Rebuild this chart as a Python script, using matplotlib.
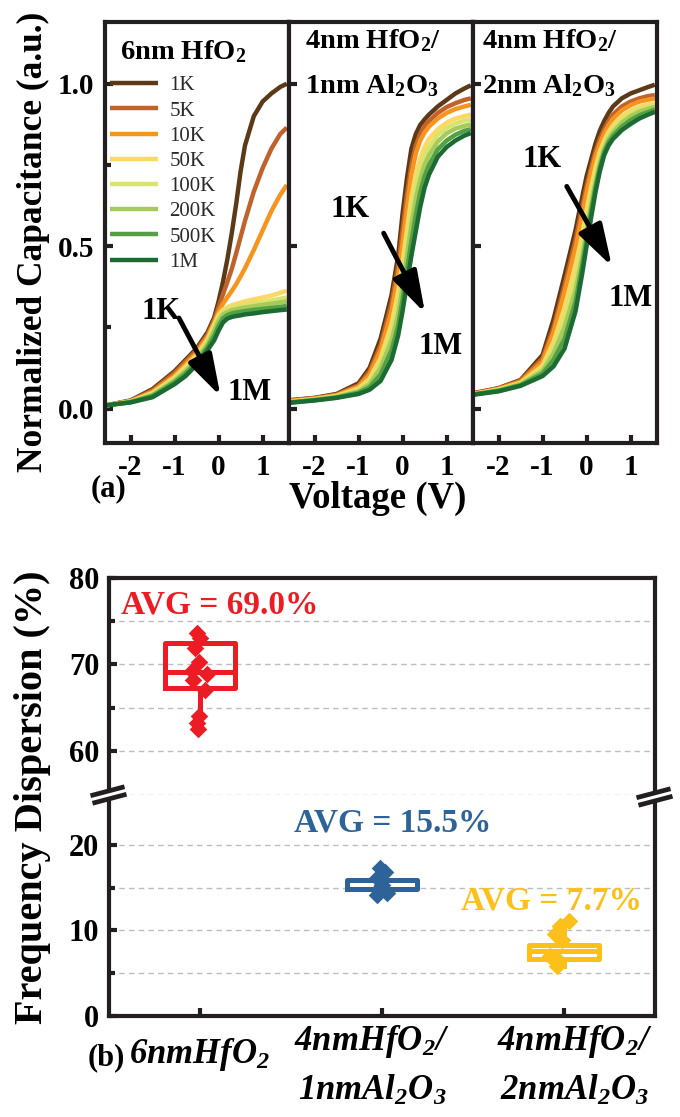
import matplotlib
matplotlib.use('Agg')
import matplotlib.pyplot as plt
import matplotlib.transforms as mtransforms
from matplotlib.lines import Line2D

plt.rcParams['font.family'] = ['Liberation Serif', 'DejaVu Serif']
plt.rcParams['font.weight'] = 'bold'
plt.rcParams['mathtext.fontset'] = 'custom'
plt.rcParams['mathtext.rm'] = 'Liberation Serif:bold'
plt.rcParams['mathtext.it'] = 'Liberation Serif:italic:bold'
plt.rcParams['mathtext.bf'] = 'Liberation Serif:bold'
plt.rcParams['mathtext.bfit'] = 'Liberation Serif:italic:bold'
plt.rcParams['axes.unicode_minus'] = False

#---- (a) C-V data, normalized capacitance
voltage = [-2.55, -2.0, -1.5, -1.0, -0.75, -0.5, -0.25, -0.1, 0.0, 0.1,
           0.2, 0.3, 0.4, 0.5, 0.6, 0.8, 1.0, 1.2, 1.4, 1.55]
freqs = ['1K', '5K', '10K', '50K', '100K', '200K', '500K', '1M']
freq_colors = ['#5C3A17', '#C0622A', '#F7941D', '#FDD865',
               '#D8E46C', '#A6CB5A', '#55A044', '#1B6B32']

cap_6nm = [
    [0.010, 0.025, 0.060, 0.115, 0.150, 0.185, 0.235, 0.280, 0.330, 0.390, 0.460, 0.540, 0.630, 0.730, 0.810, 0.900, 0.945, 0.970, 0.990, 1.000],
    [0.010, 0.024, 0.056, 0.110, 0.145, 0.180, 0.228, 0.272, 0.312, 0.352, 0.390, 0.430, 0.478, 0.528, 0.578, 0.668, 0.740, 0.800, 0.845, 0.865],
    [0.010, 0.023, 0.052, 0.102, 0.137, 0.172, 0.221, 0.265, 0.298, 0.323, 0.343, 0.362, 0.383, 0.407, 0.432, 0.488, 0.548, 0.608, 0.658, 0.688],
    [0.010, 0.022, 0.048, 0.096, 0.129, 0.164, 0.213, 0.258, 0.288, 0.304, 0.312, 0.318, 0.322, 0.326, 0.330, 0.336, 0.342, 0.348, 0.356, 0.363],
    [0.010, 0.021, 0.045, 0.091, 0.122, 0.157, 0.205, 0.250, 0.280, 0.297, 0.305, 0.310, 0.313, 0.316, 0.319, 0.324, 0.328, 0.333, 0.338, 0.342],
    [0.010, 0.020, 0.042, 0.086, 0.116, 0.151, 0.198, 0.240, 0.270, 0.290, 0.298, 0.303, 0.306, 0.309, 0.311, 0.315, 0.319, 0.323, 0.327, 0.330],
    [0.010, 0.020, 0.039, 0.081, 0.108, 0.143, 0.189, 0.225, 0.255, 0.278, 0.288, 0.293, 0.296, 0.298, 0.300, 0.304, 0.307, 0.310, 0.313, 0.316],
    [0.010, 0.019, 0.035, 0.075, 0.100, 0.135, 0.180, 0.210, 0.240, 0.265, 0.277, 0.282, 0.285, 0.287, 0.290, 0.293, 0.297, 0.300, 0.303, 0.305],
]
cap_1nm = [
    [0.026, 0.033, 0.045, 0.078, 0.125, 0.215, 0.350, 0.470, 0.600, 0.710, 0.800, 0.845, 0.873, 0.890, 0.905, 0.930, 0.950, 0.970, 0.985, 0.995],
    [0.025, 0.032, 0.043, 0.072, 0.115, 0.195, 0.325, 0.440, 0.550, 0.660, 0.750, 0.810, 0.845, 0.870, 0.885, 0.910, 0.928, 0.940, 0.950, 0.955],
    [0.024, 0.031, 0.041, 0.068, 0.105, 0.180, 0.300, 0.410, 0.510, 0.620, 0.720, 0.785, 0.825, 0.850, 0.868, 0.893, 0.910, 0.922, 0.930, 0.935],
    [0.022, 0.029, 0.039, 0.062, 0.092, 0.155, 0.260, 0.360, 0.450, 0.550, 0.650, 0.720, 0.770, 0.805, 0.830, 0.860, 0.880, 0.893, 0.900, 0.905],
    [0.021, 0.028, 0.037, 0.058, 0.083, 0.140, 0.235, 0.325, 0.410, 0.510, 0.610, 0.685, 0.740, 0.780, 0.805, 0.843, 0.864, 0.878, 0.886, 0.890],
    [0.020, 0.027, 0.036, 0.053, 0.075, 0.125, 0.210, 0.290, 0.375, 0.470, 0.565, 0.645, 0.705, 0.750, 0.780, 0.822, 0.847, 0.862, 0.870, 0.875],
    [0.019, 0.026, 0.034, 0.049, 0.066, 0.105, 0.180, 0.255, 0.335, 0.425, 0.515, 0.595, 0.665, 0.715, 0.750, 0.798, 0.825, 0.843, 0.855, 0.860],
    [0.018, 0.025, 0.033, 0.045, 0.058, 0.085, 0.150, 0.225, 0.300, 0.385, 0.470, 0.545, 0.620, 0.680, 0.720, 0.775, 0.805, 0.825, 0.840, 0.848],
]
cap_2nm = [
    [0.048, 0.063, 0.088, 0.165, 0.275, 0.410, 0.550, 0.650, 0.715, 0.765, 0.815, 0.855, 0.885, 0.910, 0.930, 0.955, 0.970, 0.980, 0.990, 0.997],
    [0.047, 0.062, 0.086, 0.155, 0.250, 0.380, 0.520, 0.620, 0.685, 0.740, 0.790, 0.830, 0.860, 0.885, 0.905, 0.930, 0.945, 0.955, 0.962, 0.965],
    [0.046, 0.061, 0.083, 0.145, 0.235, 0.360, 0.495, 0.595, 0.665, 0.725, 0.775, 0.815, 0.847, 0.872, 0.892, 0.918, 0.934, 0.945, 0.951, 0.955],
    [0.045, 0.059, 0.079, 0.132, 0.205, 0.310, 0.440, 0.535, 0.610, 0.680, 0.740, 0.790, 0.825, 0.852, 0.872, 0.900, 0.917, 0.929, 0.936, 0.940],
    [0.045, 0.058, 0.077, 0.124, 0.190, 0.280, 0.400, 0.500, 0.575, 0.650, 0.715, 0.770, 0.810, 0.840, 0.860, 0.890, 0.910, 0.922, 0.930, 0.935],
    [0.044, 0.056, 0.075, 0.116, 0.170, 0.250, 0.365, 0.465, 0.545, 0.625, 0.695, 0.755, 0.800, 0.830, 0.850, 0.880, 0.900, 0.914, 0.923, 0.928],
    [0.044, 0.055, 0.072, 0.108, 0.150, 0.215, 0.330, 0.440, 0.520, 0.605, 0.680, 0.742, 0.790, 0.820, 0.840, 0.868, 0.888, 0.903, 0.913, 0.920],
    [0.043, 0.053, 0.070, 0.100, 0.130, 0.185, 0.300, 0.415, 0.500, 0.585, 0.664, 0.730, 0.780, 0.810, 0.830, 0.857, 0.876, 0.893, 0.905, 0.913],
]
panel_caps = [cap_6nm, cap_1nm, cap_2nm]
panel_titles = [['6nm HfO$_2$'], ['4nm HfO$_2$/', '1nm Al$_2$O$_3$'], ['4nm HfO$_2$/', '2nm Al$_2$O$_3$']]

#---- (b) frequency dispersion (%)
group_labels = [[r'$\mathbfit{6nmHfO_2}$'],
                [r'$\mathbfit{4nmHfO_2/}$', r'$\mathbfit{1nmAl_2O_3}$'],
                [r'$\mathbfit{4nmHfO_2/}$', r'$\mathbfit{2nmAl_2O_3}$']]
group_colors = ['#ED1C24', '#2E6399', '#FDC01A']
disp_6nm = [73.6, 73.0, 71.9, 70.3, 69.2, 68.9, 68.2, 67.1, 64.0, 63.2, 62.5]
disp_6nm_x = [0.982, 1.0, 0.973, 0.996, 0.954, 1.037, 0.963, 1.027, 0.996, 0.985, 0.99]
disp_1nm = [17.3, 16.8, 16.1, 15.3, 14.7, 14.15, 14.35]
disp_1nm_x = [1.989, 2.016, 1.971, 1.998, 1.98, 1.971, 2.026]
disp_2nm = [11.05, 10.5, 9.6, 8.9, 6.96, 6.57, 5.8]
disp_2nm_x = [3.03, 2.978, 2.95, 2.987, 2.923, 2.969, 2.96]
box_q1 = [67.3, 14.8, 6.63]
box_med = [69.1, 14.9, 7.6]
box_q3 = [72.5, 15.95, 8.27]
box_lo = [62.5, 14.15, 5.8]
box_hi = [73.6, 17.3, 11.05]
avg_text = ['AVG = 69.0%', 'AVG = 15.5%', 'AVG = 7.7%']

W, H = 680, 1117
def fx(px):
    return px / W
def fy(py):
    return 1 - py / H

ink = '#231F20'
fig = plt.figure(figsize=(W / 100, H / 100), dpi=100)

#---- (a) three C-V panels
arrow_tail = [(-0.90, 0.279), (-0.43, 0.54), (-0.45, 0.684)]
arrow_tip = [(0.045, 0.038), (0.51, 0.294), (0.575, 0.438)]
lab_1k = [(-1.30, 0.30), (-1.19, 0.612), (-1.02, 0.766)]
lab_1m = [(0.70, 0.05), (0.87, 0.19), (1.01, 0.338)]
title_x = [0.082, 0.087, 0.049]

for i in range(3):
    ax = fig.add_axes([fx(105 + i * 184), fy(442.7), 184 / W, 420.7 / H])
    for k in range(len(freqs)):
        ax.plot(voltage, panel_caps[i][k], color=freq_colors[k], lw=3.2, label=freqs[k],
                solid_capstyle='butt', solid_joinstyle='round')
    ax.set_xlim(-2.58, 1.6)
    ax.set_ylim(-0.105, 1.19)
    for s in ax.spines.values():
        s.set_linewidth(3)
        s.set_color(ink)
    ax.set_xticks([-2, -1, 0, 1])
    ax.set_xticklabels(['-2', '-1', '0', '1'], fontsize=21)
    ax.set_yticks([0, 0.5, 1.0])
    ax.tick_params(direction='in', width=3, length=6, pad=8, color=ink)
    if i == 0:
        ax.set_yticklabels(['0.0', '0.5', '1.0'], fontsize=21)
        ax.set_yticks([0.25, 0.75], minor=True)
        ax.tick_params(which='minor', direction='in', width=3, length=4, color=ink)
        leg = ax.legend(loc='upper left', bbox_to_anchor=(0.027, 0.872), frameon=False,
                        prop={'family': 'Liberation Serif', 'weight': 'normal', 'size': 15},
                        handlelength=2.3, handletextpad=0.55, labelspacing=0.27,
                        borderpad=0, borderaxespad=0)
        for t in leg.get_texts():
            t.set_color('#2A2A2A')
    else:
        ax.set_yticklabels([])
    # titles
    if len(panel_titles[i]) == 1:
        ax.text(title_x[i], 0.911, panel_titles[i][0], transform=ax.transAxes,
                fontsize=20.5, va='baseline', ha='left')
    else:
        ax.text(title_x[i], 0.9375, panel_titles[i][0], transform=ax.transAxes,
                fontsize=20.5, va='baseline', ha='left')
        ax.text(title_x[i], 0.832, panel_titles[i][1], transform=ax.transAxes,
                fontsize=20.5, va='baseline', ha='left')
    ax.annotate('', xy=arrow_tip[i], xytext=arrow_tail[i],
                arrowprops=dict(arrowstyle='-|>,head_length=0.85,head_width=0.26',
                                color='black', lw=3.5, mutation_scale=30,
                                shrinkA=0, shrinkB=0))
    ax.text(lab_1k[i][0], lab_1k[i][1], '1K', fontsize=22, ha='center', va='center')
    ax.text(lab_1m[i][0], lab_1m[i][1], '1M', fontsize=22, ha='center', va='center')

fig.text(fx(33), fy(241.5), 'Normalized Capacitance (a.u.)', rotation=90,
         ha='center', va='center', fontsize=25.5)
fig.text(fx(378), fy(508), 'Voltage (V)', ha='center', va='baseline', fontsize=26.5)
fig.text(fx(108), fy(489), '(a)', ha='center', va='center', fontsize=22)

#---- (b) broken-axis box plot
ax_up = fig.add_axes([fx(109), fy(794.5), 546 / W, (794.5 - 577.7) / H])
ax_lo = fig.add_axes([fx(109), fy(1016), 546 / W, (1016 - 794.5) / H])
points_y = [disp_6nm, disp_1nm, disp_2nm]
points_x = [disp_6nm_x, disp_1nm_x, disp_2nm_x]

for ax in (ax_up, ax_lo):
    ax.set_xlim(0.5, 3.5)
    ax.set_axisbelow(True)
    ax.grid(axis='y', which='both', ls=(0, (4, 3)), color='#BDBDBD', lw=1)
    for s in ax.spines.values():
        s.set_linewidth(3)
        s.set_color(ink)
    for g in range(3):
        stats = [dict(med=box_med[g], q1=box_q1[g], q3=box_q3[g],
                      whislo=box_lo[g], whishi=box_hi[g], fliers=[])]
        c = group_colors[g]
        ax.bxp(stats, positions=[g + 1], widths=0.38, showcaps=False, showfliers=False,
               boxprops=dict(color=c, lw=3.6), whiskerprops=dict(color=c, lw=3.6),
               medianprops=dict(color=c, lw=3.6))
        ax.scatter(points_x[g], points_y[g], marker='D', s=80, color=c, lw=0, zorder=3)
    ax.tick_params(direction='in', width=3, length=6, pad=7, color=ink, labelsize=22)
    ax.tick_params(which='minor', direction='in', width=3, length=4, color=ink)

ax_up.set_ylim(55, 80)
ax_up.set_yticks([60, 70, 80])
ax_up.set_yticks([65, 75], minor=True)
ax_up.spines['bottom'].set_visible(False)
ax_up.tick_params(axis='x', bottom=False, labelbottom=False)
ax_up.axhline(55, ls=(0, (4, 3)), color='#BDBDBD', lw=1, zorder=0)

ax_lo.set_ylim(0, 25.9)
ax_lo.set_yticks([0, 10, 20])
ax_lo.set_yticks([5, 15], minor=True)
ax_lo.spines['top'].set_visible(False)
ax_lo.set_xticks([1, 2, 3])
ax_lo.set_xticklabels([])
ax_lo.tick_params(axis='x', which='minor', bottom=False)

ax_up.text(1.107, 75.9, avg_text[0], color=group_colors[0], fontsize=24,
           ha='center', va='baseline')
ax_lo.text(2.06, 21.56, avg_text[1], color=group_colors[1], fontsize=24,
           ha='center', va='baseline')
ax_lo.text(2.93, 12.42, avg_text[2], color=group_colors[2], fontsize=24,
           ha='center', va='baseline')

# category labels under the axis
lab_x = [1.0, 1.945, 3.06]
lab_base = [[1063], [1050, 1100], [1050, 1100]]
blend = mtransforms.blended_transform_factory(ax_lo.transData, fig.transFigure)
for g in range(3):
    for j, line in enumerate(group_labels[g]):
        ax_lo.text(lab_x[g], fy(lab_base[g][j]), line, transform=blend,
                   ha='center', va='baseline', fontsize=25, clip_on=False)

fig.text(fx(106), fy(1058), '(b)', ha='center', va='center', fontsize=22)
fig.text(fx(33), fy(797), 'Frequency Dispersion (%)', rotation=90,
         ha='center', va='center', fontsize=29)

# break marks on the left and right spines
for bx, by in [(108.5, 795), (654.5, 797)]:
    fig.add_artist(Line2D([fx(bx - 17), fx(bx + 17)], [fy(by + 4.5), fy(by - 4.5)],
                          transform=fig.transFigure, color=ink, lw=9,
                          solid_capstyle='butt', zorder=20))
    fig.add_artist(Line2D([fx(bx - 19), fx(bx + 19)], [fy(by + 5), fy(by - 5)],
                          transform=fig.transFigure, color='white', lw=2.2,
                          solid_capstyle='butt', zorder=21))

fig.savefig('out.png', dpi=100)
